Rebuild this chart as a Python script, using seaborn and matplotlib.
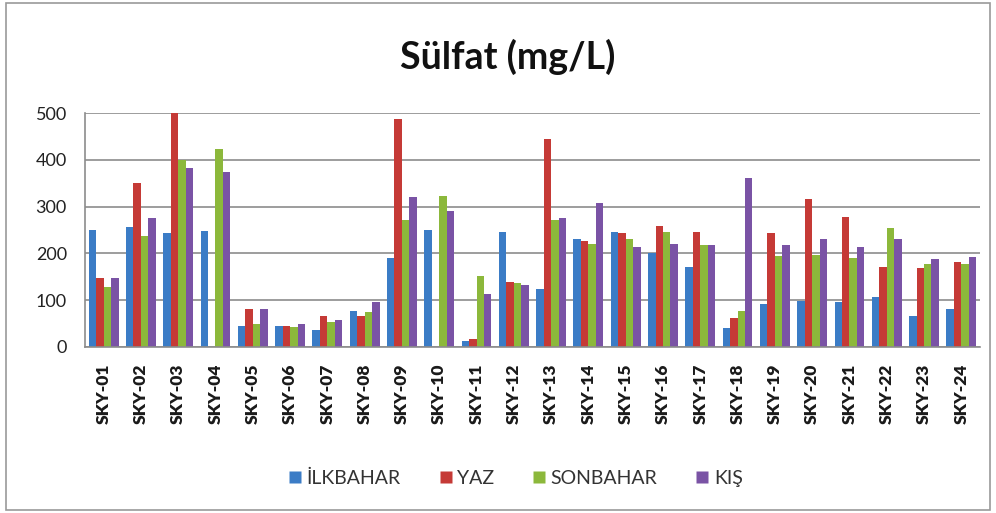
import matplotlib
matplotlib.use('Agg')
import matplotlib.pyplot as plt
import seaborn as sns
import pandas as pd
from matplotlib.patches import Rectangle
from matplotlib.lines import Line2D

# Station names and seasonal sulfate values (mg/L)
stations = ['SKY-%02d' % i for i in range(1, 25)]
seasons = ['İLKBAHAR', 'YAZ', 'SONBAHAR', 'KIŞ']

ilkbahar = [251, 256, 243, 248, 44, 44, 36, 77, 191, 250, 13, 246,
            124, 231, 246, 201, 171, 41, 91, 98, 97, 107, 66, 82]
yaz = [148, 350, 500, 0, 82, 44, 66, 66, 488, 0, 17, 139,
       444, 227, 243, 259, 246, 61, 243, 316, 278, 171, 168, 181]
sonbahar = [128, 237, 400, 423, 50, 42, 54, 74, 271, 323, 151, 136,
            271, 221, 230, 246, 218, 77, 194, 196, 191, 255, 177, 177]
kis = [148, 275, 382, 375, 82, 50, 57, 96, 320, 291, 114, 132,
       275, 308, 214, 221, 218, 362, 218, 231, 214, 231, 189, 193]

colors = ['#3B7CC6', '#C53A36', '#8CB83B', '#7A53A5']

rows = []
for season, vals in zip(seasons, [ilkbahar, yaz, sonbahar, kis]):
    for st, v in zip(stations, vals):
        rows.append({'station': st, 'season': season, 'value': v})
df = pd.DataFrame(rows)

sns.set_style('white')
plt.rcParams['font.family'] = ['Lato', 'DejaVu Sans']

fig = plt.figure(figsize=(9.96, 5.13), dpi=100)
ax = fig.add_axes([0.0853, 0.3236, 0.8986, 0.4561])

sns.barplot(
    data=df, x='station', y='value', hue='season',
    palette=colors, width=0.8, saturation=1,
    edgecolor='none', ax=ax, legend=False
)

ax.set_ylim(0, 500)
ax.set_xlim(-0.5, 23.5)
ax.set_yticks([0, 100, 200, 300, 400, 500])
ax.yaxis.grid(True, color='#8c8c8c', linewidth=1.2)
ax.set_axisbelow(True)
ax.set_xlabel('')
ax.set_ylabel('')

for side in ['top', 'right']:
    ax.spines[side].set_visible(False)
for side in ['left', 'bottom']:
    ax.spines[side].set_color('#8c8c8c')
    ax.spines[side].set_linewidth(1.2)

ax.tick_params(axis='y', length=5, color='#8c8c8c', labelsize=13,
               labelcolor='#222222', pad=8)
ax.tick_params(axis='x', length=0, pad=12)
ax.set_xticks(range(len(stations)))
ax.set_xticklabels(stations, rotation=90, fontsize=12.5, color='#1a1a1a')
for lbl in ax.get_xticklabels():
    lbl.set_fontweight('heavy')

fig.suptitle('Sülfat (mg/L)', x=0.51, y=1 - 57 / 513, fontsize=27,
             fontweight='bold', color='#111111', va='center')

# square legend markers, like the spreadsheet legend
handles = [Line2D([], [], marker='s', linestyle='none', markersize=8,
                  markerfacecolor=c, markeredgecolor='none') for c in colors]
leg = fig.legend(
    handles, seasons,
    loc='center', bbox_to_anchor=(0.518, 1 - 478 / 513),
    ncol=4, frameon=False, fontsize=14,
    handlelength=0.6, handletextpad=0.3, columnspacing=2.0
)
for t in leg.get_texts():
    t.set_color('#333333')

# outer frame like the original chart border
fig.patches.append(Rectangle((0.006, 0.006), 0.988, 0.988,
                             transform=fig.transFigure, fill=False,
                             edgecolor='#9a9a9a', linewidth=1.2))

fig.savefig('out.png', dpi=100)
